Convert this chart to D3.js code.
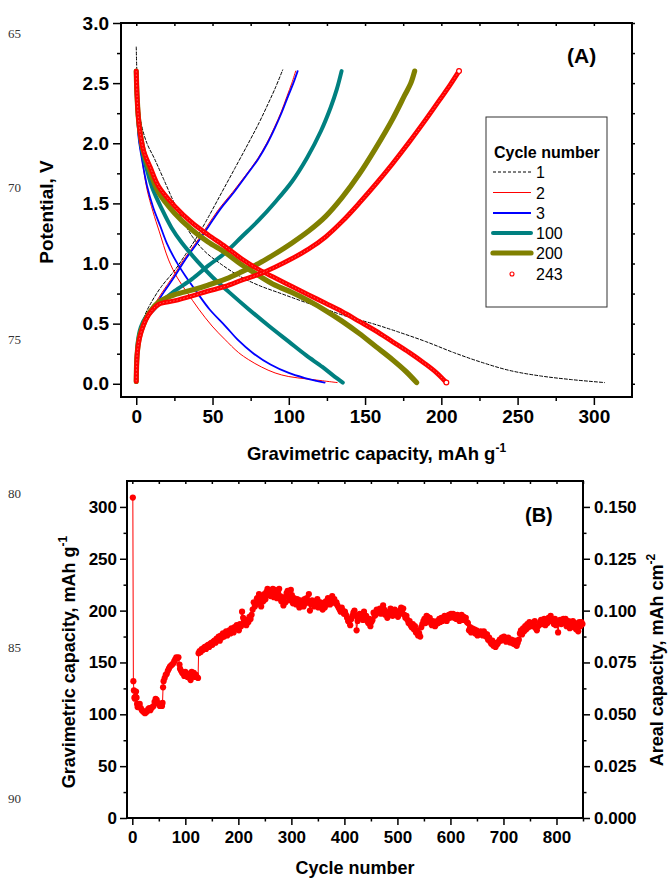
<!DOCTYPE html>
<html>
<head>
<meta charset="utf-8">
<script src="https://cdn.jsdelivr.net/npm/d3@7"></script>
<style>
  html, body { margin: 0; padding: 0; background: #fff; }
  svg { display: block; }
</style>
</head>
<body>
<svg id="chart" width="668" height="878"></svg>
<script>
// ---------- Panel A: potential profiles, [capacity mAh/g, potential V] ----------
const cycleLabels = ["1", "2", "3", "100", "200", "243"];

const discharge1 = [[0,2.80],[0.4,2.6],[1.5,2.35],[3.5,2.15],[7,2.0],[12,1.87],[18,1.7],[25,1.5],[31,1.35],[37,1.22],[45,1.1],[55,1.0],[67,0.9],[80,0.82],[95,0.75],[108,0.69],[122,0.63],[138,0.56],[155,0.5],[172,0.43],[190,0.35],[208,0.26],[226,0.18],[245,0.11],[265,0.065],[285,0.035],[307,0.01]];
const charge1 = [[0,0.05],[0.5,0.2],[1.5,0.35],[3,0.45],[6,0.58],[10,0.68],[16,0.8],[25.6,0.95],[32,1.07],[39.8,1.22],[47,1.38],[56,1.59],[65,1.8],[73.5,2.0],[80.5,2.17],[86.5,2.33],[91.5,2.47],[96,2.61]];

const discharge2 = [[0,2.6],[0.5,2.3],[1.5,2.05],[3.7,1.87],[7,1.62],[11,1.43],[15,1.27],[21.2,1.03],[27,0.88],[33.3,0.76],[41,0.62],[49.7,0.48],[58,0.37],[67,0.26],[73.7,0.2],[82,0.14],[91,0.09],[100,0.06],[112,0.04],[122,0.025],[131.7,0.01]];
const charge2 = [[0,0.05],[0.5,0.2],[1.5,0.34],[3,0.44],[5.5,0.53],[9.5,0.61],[17,0.76],[24,0.89],[31,1.03],[39,1.17],[46.5,1.31],[54,1.45],[63,1.59],[71.5,1.73],[79.5,1.87],[85.5,2.0],[90.5,2.13],[95,2.26],[98.8,2.39],[102,2.5],[104.5,2.6]];

const discharge3 = [[0,2.6],[0.5,2.3],[1.5,2.05],[3.7,1.87],[7,1.65],[11,1.47],[15.8,1.31],[20,1.17],[25.6,1.03],[32,0.9],[39.8,0.76],[48,0.62],[58.4,0.48],[67,0.36],[76,0.26],[88,0.16],[100,0.09],[110,0.05],[118,0.025],[123.5,0.01]];
const charge3 = [[0,0.05],[0.5,0.2],[1.5,0.33],[3,0.43],[6,0.52],[10,0.6],[18,0.76],[25,0.89],[32,1.03],[40,1.17],[47.5,1.31],[55,1.45],[63.9,1.59],[72,1.73],[80,1.87],[86,2.0],[91,2.13],[95.5,2.26],[99.5,2.39],[103,2.5],[105.8,2.6]];

const discharge100 = [[0,2.6],[0.4,2.4],[1.2,2.2],[2.5,2.05],[4.5,1.9],[7,1.78],[10.5,1.63],[16.9,1.45],[23,1.3],[30,1.17],[40,1.02],[49.7,0.89],[61,0.76],[73.7,0.62],[87,0.48],[100,0.35],[111,0.24],[122,0.14],[129,0.07],[135.4,0.01]];
const charge100 = [[0,0.02],[0.3,0.2],[1,0.35],[3,0.47],[6,0.55],[10,0.6],[14.7,0.66],[25,0.77],[36.5,0.87],[47,0.98],[58.4,1.09],[69,1.22],[80.3,1.36],[91,1.51],[102,1.68],[112,1.88],[121,2.1],[127.5,2.3],[131.5,2.45],[134.6,2.6]];

const discharge200 = [[0,2.6],[0.5,2.4],[1.5,2.2],[3,2.05],[5,1.92],[8.1,1.8],[14.7,1.59],[25,1.42],[36.5,1.28],[47,1.18],[58.4,1.09],[69,0.99],[80.3,0.9],[91,0.82],[102,0.76],[113,0.69],[124,0.61],[135,0.52],[146,0.42],[157,0.31],[168,0.2],[177,0.1],[183.8,0.01]];
const charge200 = [[0,0.02],[0.3,0.18],[1,0.3],[2.5,0.41],[5,0.5],[9,0.6],[14.7,0.68],[25,0.74],[36.5,0.78],[47,0.82],[58.4,0.87],[69,0.93],[80.3,1.0],[91,1.08],[102,1.17],[113,1.27],[124,1.39],[135,1.55],[146,1.74],[157,1.96],[168,2.2],[176,2.4],[180,2.5],[182.5,2.6]];

const discharge243 = [[0,2.6],[0.5,2.4],[1.5,2.2],[3,2.05],[5,1.93],[9.2,1.8],[14.7,1.64],[25,1.48],[36.5,1.34],[47,1.24],[58.4,1.14],[69,1.04],[80.3,0.95],[91,0.88],[102,0.81],[113,0.74],[124,0.67],[135,0.6],[146,0.52],[157,0.44],[168,0.35],[179,0.26],[189,0.17],[197,0.09],[203.3,0.01]];
const charge243 = [[0,0.02],[0.2,0.14],[0.7,0.26],[2,0.37],[4.5,0.48],[8,0.57],[14.7,0.66],[25,0.69],[36.5,0.73],[47,0.77],[58.4,0.81],[69,0.86],[80.3,0.91],[91,0.97],[102,1.04],[113,1.12],[124,1.22],[135,1.35],[146,1.5],[157,1.66],[168,1.83],[179,2.01],[190,2.2],[200,2.38],[206,2.49],[211.6,2.6]];

const capacityTicksA = [0, 50, 100, 150, 200, 250, 300];
const potentialTicksA = [0, 0.5, 1.0, 1.5, 2.0, 2.5, 3.0];

// ---------- Panel B: capacity vs cycle number ----------
const earlyCycles = [1,2,3,4,5,6,7,8,9,10,12,14,16,18,20,22,24,26,28,30,32,34,36,38,40,42,44,46,48,50,52,54,56,57,58,59,61,63,65,67,69,71,73,75,77,79,81,83,85,87,89,90,92,94,96,98,100,102,104,106,108,110,112,114,116,118,120,122,124];
const earlyCapacity = [309,132,123,116,115,117,122,116,110,107,109,110,106,104,103,102,101,102,103,105,106,104,106,107,108,112,115,114,111,110,108,109,108,111,126,132,135,138,139,142,144,146,147,148,149,151,153,155,154,155,148,144,142,140,139,137,141,138,136,139,135,133,141,138,140,136,138,136,135];
// cycles 125, 127, 129, ... 849 (every second cycle)
const laterFirstCycle = 125;
const laterCycleStep = 2;
const laterCapacity = [
  159,161,160,163,162,164,165,163,166,167,165,168,169,167,170,
  171,169,173,172,175,171,176,174,178,175,177,180,176,179,181,
  178,183,181,179,184,182,186,183,181,187,185,199,193,190,188,
  186,191,189,194,192,196,201,208,204,206,212,210,216,207,204,
  213,209,216,211,218,221,215,219,214,217,221,213,220,216,212,
  218,221,214,209,212,205,213,208,217,219,213,210,220,215,207,
  212,208,206,211,209,203,210,205,209,204,211,207,212,209,216,
  200,206,210,207,204,209,205,211,203,207,208,204,201,206,203,
  209,206,212,208,206,210,214,209,211,207,208,205,203,201,199,
  203,200,197,199,196,193,190,189,186,192,195,198,200,195,181,
  190,194,197,193,196,191,199,194,195,190,188,192,185,189,191,
  198,195,196,201,199,198,202,197,199,205,201,196,198,193,195,
  199,202,200,195,197,201,197,199,194,196,200,203,198,202,196,
  193,195,191,188,190,186,184,187,182,185,179,181,176,178,175,
  184,187,190,192,188,195,194,191,193,188,186,190,189,185,187,
  190,188,192,189,193,190,191,195,192,190,194,196,193,197,194,
  197,193,195,192,196,194,190,193,196,191,194,192,193,189,188,
  181,184,179,183,180,182,178,181,176,179,177,180,178,176,180,
  178,175,177,172,174,170,168,171,166,169,165,167,168,170,172,
  171,174,172,175,173,170,172,174,171,169,172,170,168,171,167,
  166,169,172,178,181,177,183,180,185,182,187,184,189,186,185,
  188,185,190,183,181,185,186,189,191,187,188,192,186,190,188,
  193,190,195,191,190,187,192,186,189,179,188,191,187,189,192,
  188,192,185,189,190,183,187,186,190,184,188,182,186,180,189,
  185,189,187
];
const cycleTicksB = [0, 100, 200, 300, 400, 500, 600, 700, 800];
const gravTicksB = [0, 50, 100, 150, 200, 250, 300];
const arealTicksB = [0, 0.025, 0.05, 0.075, 0.1, 0.125, 0.15];
const pageLineNumbers = ["65", "70", "75", "80", "85", "90"];

// ---------- drawing ----------
const FONT = '"Liberation Sans", Arial, Helvetica, sans-serif';
const svg = d3.select("#chart");

function styleAxis(g, fontSize) {
  g.attr("font-family", FONT).attr("font-size", fontSize).attr("font-weight", "bold");
  g.select(".domain").remove();
  g.selectAll(".tick line").attr("stroke", "#000").attr("stroke-width", 1.5);
  g.selectAll(".tick text").attr("fill", "#000");
  return g;
}
function addAxis(axisGen, fontSize) {
  return styleAxis(svg.append("g").call(axisGen), fontSize);
}

// Page line numbers in the margin
const lineNumberY = [37.5, 191.5, 344, 497.5, 651.5, 803];
svg.append("g").selectAll("text").data(pageLineNumbers).join("text")
  .attr("x", 8).attr("y", (d, i) => lineNumberY[i])
  .attr("font-family", '"Liberation Serif", "Times New Roman", serif')
  .attr("font-size", 13).attr("fill", "#333").text(d => d);

// ===== Panel A =====
const A = { left: 121, top: 23, right: 632, bottom: 397 };
const xA = d3.scaleLinear().domain([-10, 325]).range([A.left, A.right]);
const yA = d3.scaleLinear().domain([-0.11, 3.0]).range([A.bottom, A.top]);

const minorCapA = d3.range(25, 325, 50);
const minorPotA = d3.range(0.25, 3.0, 0.5);

addAxis(d3.axisBottom(xA).tickValues(capacityTicksA).tickFormat(d3.format("d"))
  .tickSize(8).tickPadding(5).tickSizeOuter(0), 19)
  .attr("transform", `translate(0,${A.bottom})`);
addAxis(d3.axisBottom(xA).tickValues(minorCapA).tickFormat("").tickSize(4).tickSizeOuter(0), 19)
  .attr("transform", `translate(0,${A.bottom})`);
addAxis(d3.axisLeft(yA).tickValues(potentialTicksA).tickFormat(d3.format(".1f"))
  .tickSize(8).tickPadding(4).tickSizeOuter(0), 19)
  .attr("transform", `translate(${A.left},0)`);
addAxis(d3.axisLeft(yA).tickValues(minorPotA).tickFormat("").tickSize(4).tickSizeOuter(0), 19)
  .attr("transform", `translate(${A.left},0)`);
// mirrored ticks on top and right
addAxis(d3.axisBottom(xA).tickValues(capacityTicksA.concat(minorCapA)).tickFormat("").tickSize(3).tickSizeOuter(0), 19)
  .attr("transform", `translate(0,${A.top})`);
addAxis(d3.axisRight(yA).tickValues(potentialTicksA.concat(minorPotA)).tickFormat("").tickSize(3).tickSizeOuter(0), 19)
  .attr("transform", `translate(${A.right},0)`);

svg.append("rect").attr("x", A.left).attr("y", A.top)
  .attr("width", A.right - A.left).attr("height", A.bottom - A.top)
  .attr("fill", "none").attr("stroke", "#000").attr("stroke-width", 2);

const lineA = d3.line().x(d => xA(d[0])).y(d => yA(d[1])).curve(d3.curveCatmullRom.alpha(0.5));

const profileSeries = [
  { label: cycleLabels[0], curves: [discharge1, charge1], color: "#000", width: 1, dash: "3,2" },
  { label: cycleLabels[1], curves: [discharge2, charge2], color: "#ff0000", width: 1 },
  { label: cycleLabels[2], curves: [discharge3, charge3], color: "#0000ff", width: 1.8 },
  { label: cycleLabels[3], curves: [discharge100, charge100], color: "#008080", width: 4 },
  { label: cycleLabels[4], curves: [discharge200, charge200], color: "#808000", width: 5.2 },
  { label: cycleLabels[5], curves: [discharge243, charge243], color: "#ff0000", width: 4.8, rings: true }
];

const gA = svg.append("g");
profileSeries.forEach(s => {
  s.curves.forEach(c => {
    gA.append("path").attr("d", lineA(c)).attr("fill", "none")
      .attr("stroke", s.color).attr("stroke-width", s.width)
      .attr("stroke-linecap", "round").attr("stroke-dasharray", s.dash || null);
    if (s.rings) {
      // open-circle markers rendered as a faint ring texture along the trace
      gA.append("path").attr("d", lineA(c)).attr("fill", "none")
        .attr("stroke", "#ffffff").attr("stroke-width", 1)
        .attr("stroke-dasharray", "1.5,2").attr("stroke-opacity", 0.35);
      const end = c[c.length - 1];
      gA.append("circle").attr("cx", xA(end[0])).attr("cy", yA(end[1])).attr("r", 2.4)
        .attr("fill", "#fff").attr("stroke", s.color).attr("stroke-width", 1.2);
    }
  });
});

// "(A)" tag
svg.append("text").attr("x", 567).attr("y", 62.5).attr("font-family", FONT)
  .attr("font-size", 21).attr("font-weight", "bold").text("(A)");

// Legend
const leg = svg.append("g").attr("font-family", FONT);
leg.append("rect").attr("x", 486).attr("y", 117).attr("width", 121).attr("height", 190)
  .attr("fill", "#fff").attr("stroke", "#333").attr("stroke-width", 1);
leg.append("text").attr("x", 494).attr("y", 157.5).attr("font-size", 16)
  .attr("font-weight", "bold").text("Cycle number");
const legY = [172, 192.5, 213, 233, 253, 274];
profileSeries.forEach((s, i) => {
  const y = legY[i];
  if (s.rings) {
    leg.append("circle").attr("cx", 512).attr("cy", y).attr("r", 2)
      .attr("fill", "#fff").attr("stroke", s.color).attr("stroke-width", 1.1);
  } else {
    leg.append("line").attr("x1", 493).attr("x2", 531).attr("y1", y).attr("y2", y)
      .attr("stroke", s.color).attr("stroke-width", s.width)
      .attr("stroke-linecap", s.width > 3 ? "round" : "butt")
      .attr("stroke-dasharray", s.dash || null);
  }
  leg.append("text").attr("x", 536).attr("y", y + 6).attr("font-size", 16).text(s.label);
});

// Axis titles A
const tA = svg.append("text").attr("x", (A.left + A.right) / 2).attr("y", 460)
  .attr("text-anchor", "middle").attr("font-family", FONT)
  .attr("font-size", 18.5).attr("font-weight", "bold");
tA.append("tspan").text("Gravimetric capacity, mAh g");
tA.append("tspan").attr("font-size", 12).attr("dy", -8).text("-1");

svg.append("text").attr("transform", "translate(53,212) rotate(-90)")
  .attr("text-anchor", "middle").attr("font-family", FONT)
  .attr("font-size", 19).attr("font-weight", "bold").text("Potential, V");

// ===== Panel B =====
const B = { left: 127, top: 481, right: 583, bottom: 818 };
const xB = d3.scaleLinear().domain([-10, 850]).range([B.left, B.right]);
const yB = d3.scaleLinear().domain([0, 325]).range([B.bottom, B.top]);
const yB2 = d3.scaleLinear().domain([0, 0.1625]).range([B.bottom, B.top]);

const minorCycleB = d3.range(50, 851, 100);
const minorGravB = d3.range(25, 325, 50);
const minorArealB = d3.range(0.0125, 0.16, 0.025);

addAxis(d3.axisBottom(xB).tickValues(cycleTicksB).tickFormat(d3.format("d"))
  .tickSize(7).tickPadding(6).tickSizeOuter(0), 17)
  .attr("transform", `translate(0,${B.bottom})`);
addAxis(d3.axisBottom(xB).tickValues(minorCycleB).tickFormat("").tickSize(3.5).tickSizeOuter(0), 17)
  .attr("transform", `translate(0,${B.bottom})`);
addAxis(d3.axisLeft(yB).tickValues(gravTicksB).tickFormat(d3.format("d"))
  .tickSize(7).tickPadding(3).tickSizeOuter(0), 17)
  .attr("transform", `translate(${B.left},0)`);
addAxis(d3.axisLeft(yB).tickValues(minorGravB).tickFormat("").tickSize(3.5).tickSizeOuter(0), 17)
  .attr("transform", `translate(${B.left},0)`);
addAxis(d3.axisRight(yB2).tickValues(arealTicksB).tickFormat(d3.format(".3f"))
  .tickSize(7).tickPadding(4).tickSizeOuter(0), 17)
  .attr("transform", `translate(${B.right},0)`);
addAxis(d3.axisRight(yB2).tickValues(minorArealB).tickFormat("").tickSize(3.5).tickSizeOuter(0), 17)
  .attr("transform", `translate(${B.right},0)`);
addAxis(d3.axisBottom(xB).tickValues(d3.range(0, 851, 50)).tickFormat("").tickSize(3).tickSizeOuter(0), 17)
  .attr("transform", `translate(0,${B.top})`);

svg.append("rect").attr("x", B.left).attr("y", B.top)
  .attr("width", B.right - B.left).attr("height", B.bottom - B.top)
  .attr("fill", "none").attr("stroke", "#000").attr("stroke-width", 2);

const cyclingData = earlyCycles.map((c, i) => [c, earlyCapacity[i]])
  .concat(laterCapacity.map((v, i) => [laterFirstCycle + laterCycleStep * i, v]));

const gB = svg.append("g");
gB.append("path").attr("d", d3.line().x(d => xB(d[0])).y(d => yB(d[1]))(cyclingData))
  .attr("fill", "none").attr("stroke", "#ff0000").attr("stroke-width", 1);
gB.selectAll("circle").data(cyclingData).join("circle")
  .attr("cx", d => xB(d[0])).attr("cy", d => yB(d[1])).attr("r", 3.1)
  .attr("fill", "#ff0000");

svg.append("text").attr("x", 525).attr("y", 521.5).attr("font-family", FONT)
  .attr("font-size", 20).attr("font-weight", "bold").text("(B)");

svg.append("text").attr("x", (B.left + B.right) / 2).attr("y", 874)
  .attr("text-anchor", "middle").attr("font-family", FONT)
  .attr("font-size", 18).attr("font-weight", "bold").text("Cycle number");

const tBl = svg.append("text").attr("transform", "translate(75,662) rotate(-90)")
  .attr("text-anchor", "middle").attr("font-family", FONT)
  .attr("font-size", 18).attr("font-weight", "bold");
tBl.append("tspan").text("Gravimetric capacity, mAh g");
tBl.append("tspan").attr("font-size", 12).attr("dy", -8).text("-1");

const tBr = svg.append("text").attr("transform", "translate(663,660) rotate(-90)")
  .attr("text-anchor", "middle").attr("font-family", FONT)
  .attr("font-size", 18).attr("font-weight", "bold");
tBr.append("tspan").text("Areal capacity, mAh cm");
tBr.append("tspan").attr("font-size", 12).attr("dy", -8).text("-2");
</script>
</body>
</html>
